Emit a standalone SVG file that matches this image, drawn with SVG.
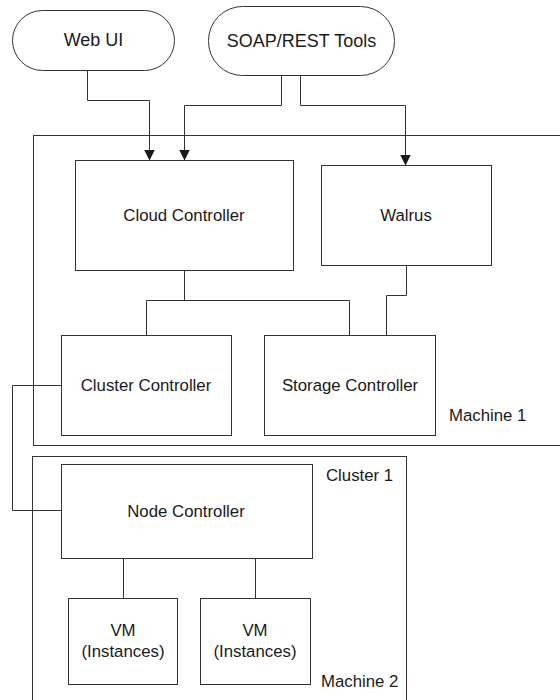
<svg xmlns="http://www.w3.org/2000/svg" width="560" height="700" viewBox="0 0 560 700">
<defs>
<style>
.box{fill:none;stroke:#333;stroke-width:1}
.node{fill:#fff;stroke:#333;stroke-width:1}
.ln{fill:none;stroke:#333;stroke-width:1}
text{font-family:"Liberation Sans",Arial,sans-serif;font-size:16.8px;fill:#1a1a1a}
.c{text-anchor:middle}
.big{font-size:18px}
</style>
<marker id="arr" viewBox="0 0 10 10" refX="10" refY="5" markerWidth="11" markerHeight="11" markerUnits="userSpaceOnUse" orient="auto">
<path d="M0,0 L10,5 L0,10 Z" fill="#1a1a1a"/>
</marker>
</defs>
<rect width="560" height="700" fill="#fff"/>
<g id="machine1">
<rect class="box" x="33.5" y="135.5" width="540" height="310"/>
<text x="449" y="421">Machine 1</text>
</g>
<g id="machine2">
<rect class="box" x="32.5" y="456.5" width="374" height="260"/>
<text x="326" y="481">Cluster 1</text>
<text x="321" y="687">Machine 2</text>
</g>
<g id="webui">
<rect class="node" x="12.5" y="10.5" width="162" height="60" rx="30" ry="30"/>
<text class="c big" x="93.5" y="46">Web UI</text>
</g>
<g id="soap">
<rect class="node" x="208.5" y="6.5" width="186" height="69" rx="34" ry="34"/>
<text class="c big" x="301.5" y="47">SOAP/REST Tools</text>
</g>
<g id="cloud">
<rect class="node" x="75.5" y="160.5" width="218" height="110"/>
<text class="c" x="184" y="221">Cloud Controller</text>
</g>
<g id="walrus">
<rect class="node" x="321.5" y="165.5" width="170" height="100"/>
<text class="c" x="406" y="221">Walrus</text>
</g>
<g id="cluster">
<rect class="node" x="61.5" y="335.5" width="170" height="100"/>
<text class="c" x="146" y="391">Cluster Controller</text>
</g>
<g id="storage">
<rect class="node" x="264.5" y="335.5" width="171" height="100"/>
<text class="c" x="350" y="391">Storage Controller</text>
</g>
<g id="nodectl">
<rect class="node" x="61.5" y="464.5" width="251" height="94"/>
<text class="c" x="186" y="517">Node Controller</text>
</g>
<g id="vm1">
<rect class="node" x="68.5" y="598.5" width="109" height="86"/>
<text class="c" x="123" y="636">VM</text>
<text class="c" x="123" y="657">(Instances)</text>
</g>
<g id="vm2">
<rect class="node" x="200.5" y="598.5" width="110" height="86"/>
<text class="c" x="255" y="636">VM</text>
<text class="c" x="255" y="657">(Instances)</text>
</g>
<g id="connectors">
<path class="ln" d="M87.5,70.5 V100.5 H149.5 V160.5" marker-end="url(#arr)"/>
<path class="ln" d="M281.5,75.5 V105.5 H184.5 V160.5" marker-end="url(#arr)"/>
<path class="ln" d="M300.5,75.5 V105.5 H405.5 V165.5" marker-end="url(#arr)"/>
<path class="ln" d="M184.5,270.5 V300.5 M146.5,335.5 V300.5 H349.5 V335.5"/>
<path class="ln" d="M406.5,265.5 V295.5 H386.5 V335.5"/>
<path class="ln" d="M61.5,385.5 H12.5 V510.5 H61.5"/>
<path class="ln" d="M123.5,558.5 V598.5 M255.5,558.5 V598.5"/>
</g>
</svg>
